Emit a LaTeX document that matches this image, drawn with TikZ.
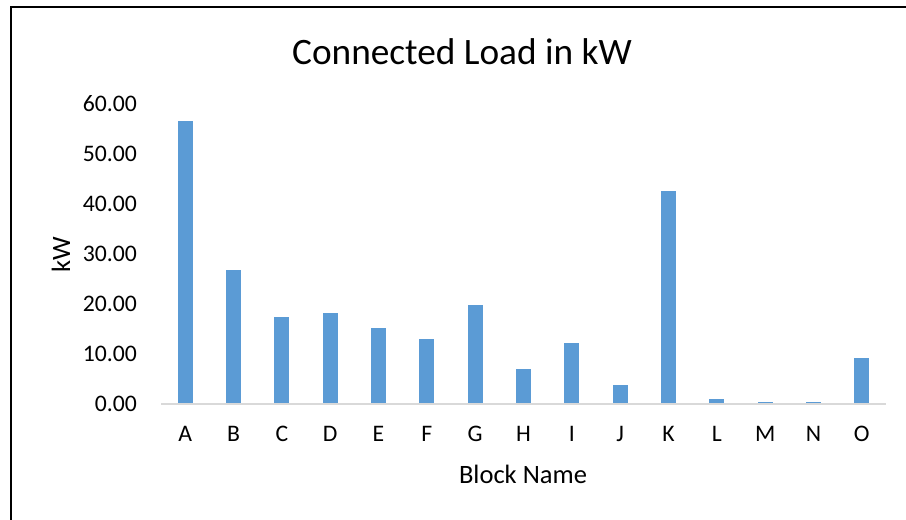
\documentclass[tikz,border=0pt]{standalone}
\usepackage{fontspec}
\setmainfont{Carlito}
\definecolor{barblue}{HTML}{5B9BD5}
\definecolor{axisgrey}{HTML}{D9D9D9}
\begin{document}
\begin{tikzpicture}[x=1pt,y=-1pt,
  ticklbl/.style={font=\fontsize{23.7}{28}\selectfont,inner sep=0pt},
  catlbl/.style={font=\fontsize{23.7}{28}\selectfont,inner sep=0pt},
  axtitle/.style={font=\fontsize{26.5}{31}\selectfont,inner sep=0pt},
  bar/.style={fill=barblue,draw=none}]
\useasboundingbox (0,0) rectangle (906,520);
\fill[white] (0,0) rectangle (906,520);
% frame
\draw[line width=2.5pt] (11,520) -- (11,7) -- (906,7);
% title
\node[font=\fontsize{37.3}{43}\selectfont,inner sep=0pt] (title) at (462,52) {Connected Load in kW};
% y tick labels
\foreach \v/\t in {0/0.00,10/10.00,20/20.00,30/30.00,40/40.00,50/50.00,60/60.00}{
  \node[ticklbl,anchor=east] (y\v) at (137,{404-5*\v}) {\t};
}
% bars and categories
\foreach \c/\val [count=\i from 0] in {A/56.7,B/26.8,C/17.4,D/18.3,E/15.3,F/13.0,G/19.8,H/7.0,I/12.2,J/3.8,K/42.6,L/1.0,M/0.4,N/0.4,O/9.3}{
  \pgfmathsetmacro{\cx}{161+48.333*(\i+0.5)}
  \fill[barblue] ({\cx-7.5},404) rectangle ({\cx+7.5},{404-5*\val});
  \node[catlbl] (c\c) at (\cx,434) {\c};
}
% axis line
\draw[axisgrey,line width=1.5pt] (161,404) -- (886,404);
% axis titles
\node[axtitle] (xtitle) at (523,474) {Block Name};
\node[axtitle,rotate=90] (ytitle) at (61,255) {kW};
\end{tikzpicture}
\end{document}
